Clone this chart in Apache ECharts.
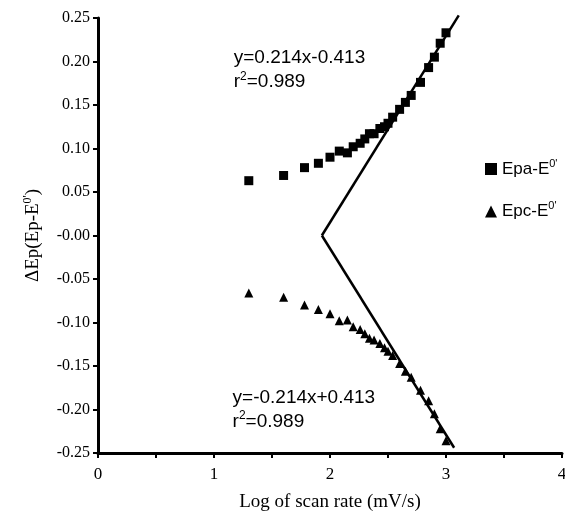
<!DOCTYPE html>
<html>
<head>
<meta charset="utf-8">
<script src="https://cdn.jsdelivr.net/npm/echarts@6/dist/echarts.min.js"></script>
<style>
  html, body { margin: 0; padding: 0; background: #fff; }
  #chart { width: 565px; height: 513px; }
</style>
</head>
<body>
<div id="chart"></div>
<script>
// log of scan rate (mV/s)
const logRate = [1.30, 1.60, 1.78, 1.90, 2.00, 2.08, 2.15, 2.20, 2.26, 2.30, 2.34, 2.38,
  2.43, 2.47, 2.50, 2.54, 2.60, 2.65, 2.70, 2.78, 2.85, 2.90, 2.95, 3.00]
const epa = [0.063, 0.069, 0.078, 0.083, 0.090, 0.097, 0.095, 0.102, 0.106, 0.111, 0.117, 0.117,
  0.123, 0.125, 0.129, 0.136, 0.145, 0.153, 0.161, 0.176, 0.193, 0.205, 0.221, 0.233]
const epc = [-0.066, -0.071, -0.080, -0.085, -0.090, -0.098, -0.097, -0.105, -0.108, -0.113, -0.118, -0.120,
  -0.124, -0.129, -0.133, -0.138, -0.147, -0.156, -0.163, -0.178, -0.190, -0.205, -0.222, -0.236]

// fitted lines, drawn between their end points
const fitUp = [[1.93, 0.0], [3.11, 0.253]]
const fitDown = [[1.93, 0.0], [3.07, -0.244]]

// equation labels: [x, y, text]
const notes = [
  [1.17, 0.19, 'y=0.214x-0.413\nr{sup|2}=0.989'],
  [1.16, -0.20, 'y=-0.214x+0.413\nr{sup|2}=0.989'],
]

const serif = '"Liberation Serif", "Times New Roman", serif'
const sans = '"Liberation Sans", Arial, sans-serif'

const chart = echarts.init(document.getElementById('chart'))

chart.setOption({
  animation: false,
  backgroundColor: '#fff',
  grid: { left: 98, right: 3, top: 18, bottom: 60, outerBoundsMode: 'none' },
  legend: {
    left: 480,
    top: 153,
    orient: 'vertical',
    itemGap: 23,
    itemWidth: 12,
    itemHeight: 12,
    data: [
      { name: 'Epa', icon: 'rect' },
      { name: 'Epc', icon: 'triangle' },
    ],
    formatter: (n) => n + '-E{sup|0\'}',
    textStyle: {
      fontFamily: sans, fontSize: 17, color: '#000',
      rich: { sup: { fontFamily: sans, fontSize: 11, verticalAlign: 'top', padding: [0, 0, 11, 0] } },
    },
  },
  xAxis: {
    type: 'value',
    min: 0, max: 4, interval: 0.5,
    name: 'Log of scan rate (mV/s)',
    nameLocation: 'middle',
    nameGap: 40,
    nameTextStyle: { fontFamily: serif, fontSize: 19, color: '#000' },
    axisLine: { onZero: false, lineStyle: { color: '#000', width: 3 } },
    axisTick: { inside: false, length: 5, lineStyle: { color: '#000', width: 2 } },
    axisLabel: {
      fontFamily: serif, fontSize: 17, color: '#000', margin: 13,
      formatter: (v) => Number.isInteger(v) ? String(v) : '',
    },
    splitLine: { show: false },
  },
  yAxis: {
    type: 'value',
    min: -0.25, max: 0.25, interval: 0.05,
    name: 'ΔEp(Ep-E{sup|0\'})',
    nameLocation: 'middle',
    nameGap: 54,
    nameRotate: 90,
    nameTextStyle: {
      fontFamily: serif, fontSize: 19, color: '#000',
      rich: { sup: { fontFamily: serif, fontSize: 12, verticalAlign: 'top', padding: [0, 0, 10, 0] } },
    },
    axisLine: { show: true, onZero: false, lineStyle: { color: '#000', width: 3 } },
    axisTick: { show: true, length: 5, lineStyle: { color: '#000', width: 2 } },
    axisLabel: {
      fontFamily: serif, fontSize: 16, color: '#000', margin: 8,
      formatter: (v) => (Math.abs(v) < 1e-9 ? '-0.00' : v.toFixed(2)),
    },
    splitLine: { show: false },
  },
  series: [
    {
      name: 'Epa',
      type: 'scatter',
      symbol: 'rect',
      symbolSize: 9,
      itemStyle: { color: '#000', opacity: 1 },
      data: logRate.map((x, i) => [x, epa[i]]),
      z: 3,
    },
    {
      name: 'Epc',
      type: 'scatter',
      symbol: 'triangle',
      symbolSize: 9,
      itemStyle: { color: '#000', opacity: 1 },
      data: logRate.map((x, i) => [x, epc[i]]),
      z: 3,
    },
    {
      name: 'fitUp',
      type: 'line',
      symbol: 'none',
      clip: false,
      lineStyle: { color: '#000', width: 2.5 },
      data: fitUp,
      z: 2,
    },
    {
      name: 'fitDown',
      type: 'line',
      symbol: 'none',
      clip: false,
      lineStyle: { color: '#000', width: 2.5 },
      data: fitDown,
      z: 2,
    },
    {
      name: 'notes',
      type: 'scatter',
      symbolSize: 0,
      silent: true,
      itemStyle: { opacity: 1 },
      data: notes.map((n) => ({ value: [n[0], n[1]], text: n[2] })),
      label: {
        show: true,
        position: 'right',
        distance: 0,
        align: 'left',
        verticalAlign: 'middle',
        formatter: (p) => p.data.text,
        fontFamily: sans, fontSize: 19, color: '#000', opacity: 1, lineHeight: 24,
        rich: { sup: { fontFamily: sans, fontSize: 12, verticalAlign: 'top', padding: [0, 0, 12, 0] } },
      },
    },
  ],
})
</script>
</body>
</html>
